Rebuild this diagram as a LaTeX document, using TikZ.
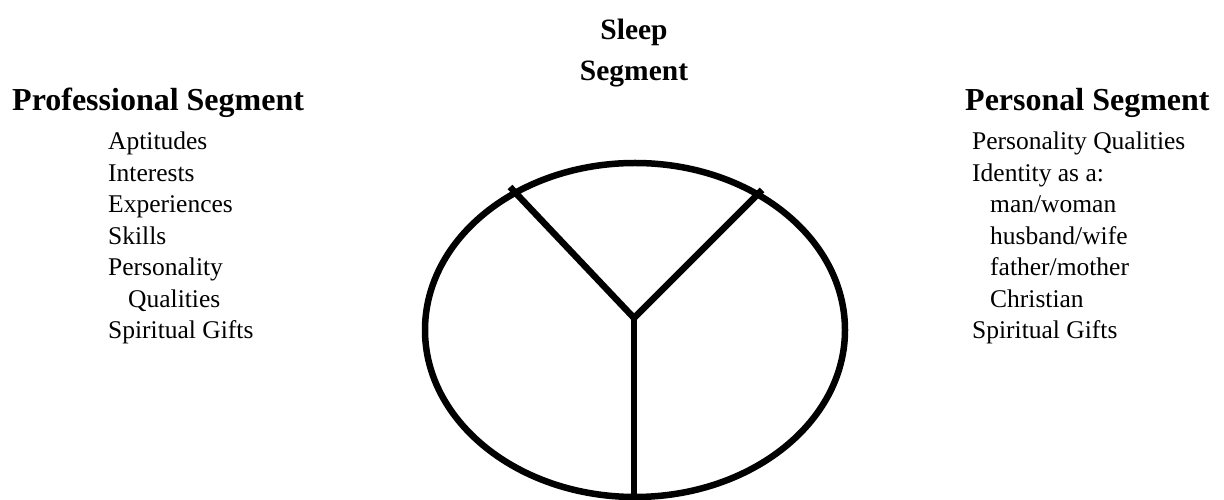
\documentclass[tikz,border=0pt]{standalone}
\usepackage{fontspec}
\setmainfont{Liberation Serif}
\begin{document}
\begin{tikzpicture}[x=1pt,y=1pt,
  head/.style={font=\fontsize{29.5}{32}\selectfont\bfseries, inner sep=0pt},
  sidehead/.style={font=\fontsize{32}{36}\selectfont\bfseries, inner sep=0pt, anchor=base west},
  item/.style={font=\fontsize{25.5}{30}\selectfont, inner sep=0pt, anchor=base west},
  seg/.style={line width=6.5pt, line cap=butt}]
\useasboundingbox (0,0) rectangle (1224,500);
% titles
\node[head, anchor=base] (sleep) at (634,460) {Sleep};
\node[head, anchor=base] (sleepseg) at (634,419) {Segment};
\node[sidehead] (prof) at (12,389) {Professional Segment};
\node[sidehead] (pers) at (965,389) {Personal Segment};
% left list
\node[item] (l1) at (108,350) {Aptitudes};
\node[item] (l2) at (108,318.5) {Interests};
\node[item] (l3) at (108,287) {Experiences};
\node[item] (l4) at (108,255.5) {Skills};
\node[item] (l5) at (108,224) {Personality};
\node[item] (l6) at (128,192.5) {Qualities};
\node[item] (l7) at (108,161) {Spiritual Gifts};
% right list
\node[item] (r1) at (972,350) {Personality Qualities};
\node[item] (r2) at (972,318.5) {Identity as a:};
\node[item] (r3) at (990,287) {man/woman};
\node[item] (r4) at (990,255.5) {husband/wife};
\node[item] (r5) at (990,224) {father/mother};
\node[item] (r6) at (990,192.5) {Christian};
\node[item] (r7) at (972,161) {Spiritual Gifts};
% circle and Y
\draw[seg] (635,170) ellipse [x radius=210, y radius=167];
\coordinate (c) at (634,182);
\coordinate (la) at (510,313);
\coordinate (ra) at (762,310);
\coordinate (bo) at (634,3);
\draw[seg, line join=miter] (la) -- (c) -- (ra);
\draw[seg] (c) -- (bo);
\end{tikzpicture}
\end{document}
